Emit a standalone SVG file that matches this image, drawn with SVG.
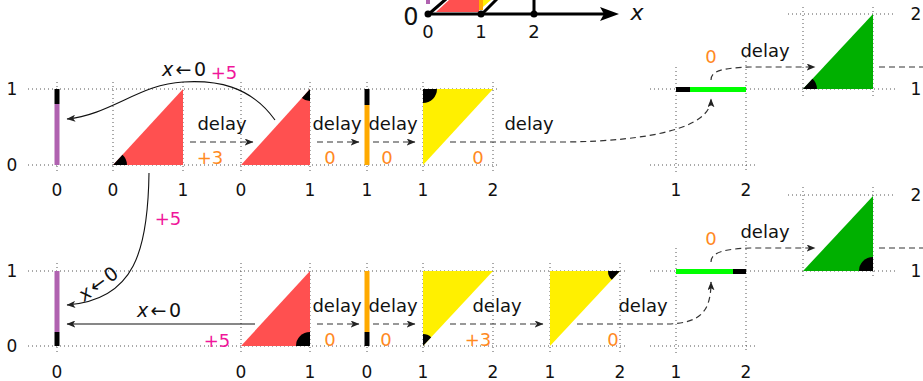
<svg xmlns="http://www.w3.org/2000/svg" width="923" height="381" viewBox="0 0 923 381">
<defs>
<marker id="ah" viewBox="0 0 10 8" refX="9.5" refY="4" markerWidth="9" markerHeight="7" markerUnits="userSpaceOnUse" orient="auto"><path d="M0,0 L10,4 L0,8 L2.5,4 Z" fill="#222"/></marker>
</defs>
<style>
.grid{stroke:#555;stroke-width:1;stroke-dasharray:1 3;fill:none}
.t{font-family:"DejaVu Sans",sans-serif;font-size:17px;fill:#111;text-anchor:middle}
.d{font-size:18px}
.o{fill:#ff8a1f;font-size:18px}
.m{fill:#f0169a;font-size:18px}
.dash{stroke:#333;stroke-width:1.2;stroke-dasharray:6 4;fill:none}
.solid{stroke:#111;stroke-width:1.1;fill:none}
.blk{fill:#000}
.red{fill:#ff5050}
.pur{fill:#b062b0}
.org{fill:#ffaa00}
.yel{fill:#fff000}
.lim{fill:#00ff00}
.grn{fill:#00b000}
</style>
<g id="grid">
<path class="grid" d="M28,89H500M28,165H500M650,89H895M650,165H757M788,14H895"/>
<path class="grid" d="M57,82V173M113,82V173M183,82V173M241,82V173M310,82V173M367,82V173M423,82V173M493,82V173M676,67V173M746,57V173M803,7V97M873,7V97"/>
<path class="grid" d="M28,271H627M28,346H627M650,271H895M650,346H757M788,195H895"/>
<path class="grid" d="M57,263V355M241,263V355M310,263V355M367,263V355M423,263V355M493,263V355M550,263V355M620,263V355M676,248V353M746,237V353M803,187V278M873,187V278"/>
</g>
<g id="axis-top">
<rect class="pur" x="426" y="0" width="4" height="4"/>
<polygon class="red" points="436,12 449,0 479,0 479,12"/>
<rect class="org" x="479" y="0" width="4" height="10"/>
<polygon class="yel" points="483,0 491,0 483,7"/>
<path d="M430,13 L446,-1 M483,13 L497,-1 M534,14 V-1" stroke="#000" stroke-width="3" fill="none"/>
<path d="M428,14 H604" stroke="#000" stroke-width="3"/>
<path d="M600,7 L619,14 L600,21 L604,14 Z" fill="#000"/>
<circle cx="428" cy="14" r="3.5" fill="#000"/>
<circle cx="481" cy="14" r="3.5" fill="#000"/>
<circle cx="534" cy="14" r="3.5" fill="#000"/>
<text class="t" x="411" y="25" style="font-size:24px">0</text>
<text class="t" x="428" y="38" style="font-size:18px">0</text>
<text class="t" x="481" y="38" style="font-size:18px">1</text>
<text class="t" x="534" y="38" style="font-size:18px">2</text>
<text class="t" x="637" y="20" style="font-size:22px;font-style:italic">x</text>
</g>
<g id="r1-a"><rect class="pur" x="54.5" y="104" width="5" height="61"/><rect class="blk" x="54.5" y="89" width="5" height="15"/></g>
<g id="r1-b"><polygon class="red" points="113,165 183,89 183,165"/><path class="blk" d="M113,165 L127,165 A14,14 0 0 0 122.5,154.7 Z"/></g>
<g id="r1-c"><polygon class="red" points="241,165 310,89 310,165"/><path class="blk" d="M310,89 L310,101 A12,12 0 0 1 301.9,97.9 Z"/></g>
<g id="r1-d"><rect class="org" x="364.5" y="105" width="5" height="60"/><rect class="blk" x="364.5" y="89" width="5" height="16"/></g>
<g id="r1-e"><polygon class="yel" points="423,89 493,89 423,165"/><path class="blk" d="M423,89 L437,89 A14,14 0 0 1 423,103 Z"/></g>
<g id="r1-f"><rect class="blk" x="676" y="87" width="14" height="5"/><rect class="lim" x="690" y="87" width="56" height="5"/></g>
<g id="r1-g"><polygon class="grn" points="803,89 873,14 873,89"/><path class="blk" d="M803,89 L817,89 A14,14 0 0 0 812.5,78.8 Z"/></g>
<g id="r2-a"><rect class="pur" x="54.5" y="271" width="5" height="61"/><rect class="blk" x="54.5" y="332" width="5" height="14"/></g>
<g id="r2-b"><polygon class="red" points="241,346 310,271 310,346"/><path class="blk" d="M310,346 L296,346 A14,14 0 0 1 310,332 Z"/></g>
<g id="r2-d"><rect class="org" x="364.5" y="271" width="5" height="61"/><rect class="blk" x="364.5" y="332" width="5" height="14"/></g>
<g id="r2-e"><polygon class="yel" points="423,271 493,271 423,346"/><path class="blk" d="M423,346 L423,334 A12,12 0 0 1 431.2,337.2 Z"/></g>
<g id="r2-e2"><polygon class="yel" points="550,271 620,271 550,346"/><path class="blk" d="M620,271 L608,271 A12,12 0 0 0 611.8,279.8 Z"/></g>
<g id="r2-f"><rect class="lim" x="676" y="269" width="57" height="5"/><rect class="blk" x="733" y="269" width="13" height="5"/></g>
<g id="r2-g"><polygon class="grn" points="803,271 873,196 873,271"/><path class="blk" d="M873,271 L859,271 A14,14 0 0 1 873,257 Z"/></g>
<g id="connectors">
<path class="solid" d="M275,120 C250,85 215,80 183,82 C140,84 110,115 67,119" marker-end="url(#ah)"/>
<path class="solid" d="M149,173 C148,250 135,300 67,305" marker-end="url(#ah)"/>
<path class="solid" d="M255,324 L67,324" stroke="#444" marker-end="url(#ah)"/>
<path class="dash" d="M190,142 L253,142" marker-end="url(#ah)"/>
<path class="dash" d="M317,142 L359,142" marker-end="url(#ah)"/>
<path class="dash" d="M373,142 L415,142" marker-end="url(#ah)"/>
<path class="dash" d="M450,142 L565,142 C650,141 711,128 711,99" marker-end="url(#ah)"/>
<path class="dash" d="M711,80 C711,70 725,68 750,67 L815,67" marker-end="url(#ah)"/>
<path class="dash" d="M879,67 L923,67"/>
<path class="dash" d="M317,324 L359,324" marker-end="url(#ah)"/>
<path class="dash" d="M373,324 L415,324" marker-end="url(#ah)"/>
<path class="dash" d="M450,324 L543,324" marker-end="url(#ah)"/>
<path class="dash" d="M577,324 L668,324 C700,323 711,312 711,282" marker-end="url(#ah)"/>
<path class="dash" d="M711,262 C711,252 725,249 750,248 L815,248" marker-end="url(#ah)"/>
<path class="dash" d="M879,248 L923,248"/>
</g>
<g id="labels">
<text class="t" x="12" y="95">1</text><text class="t" x="12" y="171">0</text>
<text class="t" x="12" y="277">1</text><text class="t" x="12" y="352">0</text>
<text class="t" x="916" y="20">2</text><text class="t" x="916" y="95">1</text>
<text class="t" x="916" y="201">2</text><text class="t" x="916" y="277">1</text>
<text class="t" x="57" y="196">0</text><text class="t" x="113" y="196">0</text><text class="t" x="183" y="196">1</text><text class="t" x="241" y="196">0</text><text class="t" x="310" y="196">1</text><text class="t" x="367" y="196">1</text><text class="t" x="423" y="196">1</text><text class="t" x="493" y="196">2</text><text class="t" x="676" y="196">1</text><text class="t" x="746" y="196">2</text>
<text class="t" x="57" y="378">0</text><text class="t" x="241" y="378">0</text><text class="t" x="310" y="378">1</text><text class="t" x="367" y="378">0</text><text class="t" x="423" y="378">1</text><text class="t" x="493" y="378">2</text><text class="t" x="550" y="378">1</text><text class="t" x="620" y="378">2</text><text class="t" x="676" y="378">1</text><text class="t" x="746" y="378">2</text>
<text class="t d" x="222" y="130">delay</text><text class="t d" x="337" y="130">delay</text><text class="t d" x="393" y="130">delay</text><text class="t d" x="529" y="130">delay</text><text class="t d" x="765" y="57">delay</text>
<text class="t d" x="337" y="312">delay</text><text class="t d" x="393" y="312">delay</text><text class="t d" x="497" y="312">delay</text><text class="t d" x="643" y="312">delay</text><text class="t d" x="765" y="238">delay</text>
<text class="t o" x="210" y="164">+3</text><text class="t o" x="330" y="164">0</text><text class="t o" x="387" y="164">0</text><text class="t o" x="478" y="164">0</text><text class="t o" x="711" y="63">0</text>
<text class="t o" x="330" y="346">0</text><text class="t o" x="386" y="346">0</text><text class="t o" x="478" y="346">+3</text><text class="t o" x="613" y="346">0</text><text class="t o" x="711" y="245">0</text>
<text class="t m" x="224" y="79">+5</text><text class="t m" x="168" y="225">+5</text><text class="t m" x="217" y="347">+5</text>
<text class="t" x="184" y="76" style="font-size:19px" textLength="44" lengthAdjust="spacing"><tspan font-style="italic">x</tspan>←0</text>
<text class="t" x="159" y="317" style="font-size:19px" textLength="44" lengthAdjust="spacing"><tspan font-style="italic">x</tspan>←0</text>
<text class="t" transform="translate(102,289) rotate(-36)" style="font-size:19px" textLength="44" lengthAdjust="spacing"><tspan font-style="italic">x</tspan>←0</text>
</g>
</svg>
